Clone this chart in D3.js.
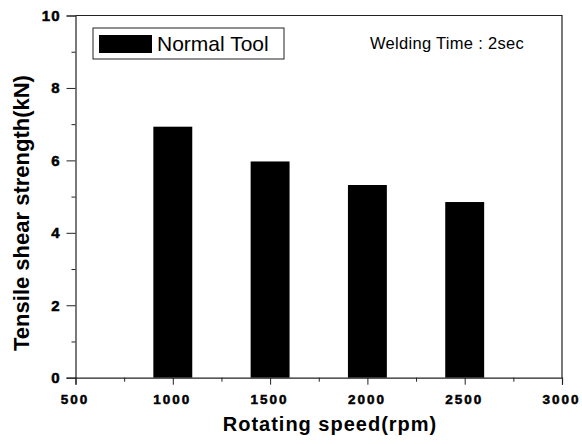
<!DOCTYPE html>
<html><head><meta charset="utf-8">
<script src="https://cdn.jsdelivr.net/npm/d3@7"></script>
<style>
html,body{margin:0;padding:0;background:#fff;}
svg{display:block;font-family:"Liberation Sans",Arial,sans-serif;}
.tk text{font-weight:bold;fill:#000;stroke:#000;stroke-width:0.5px;}
</style></head>
<body>
<svg id="c" width="582" height="444"></svg>
<script>
const speeds = [1000, 1500, 2000, 2500];
const strength = [6.93, 5.97, 5.32, 4.85];
const xTicks = [500, 1000, 1500, 2000, 2500, 3000];
const xMinor = [750, 1250, 1750, 2250, 2750];
const yTicks = [0, 2, 4, 6, 8, 10];
const yMinor = [1, 3, 5, 7, 9];
const seriesName = "Normal Tool";
const note = "Welding Time : 2sec";
const xTitle = "Rotating speed(rpm)";
const yTitle = "Tensile shear strength(kN)";

const svg = d3.select("#c");
const L = 75.5, R = 562, T = 15.5, B = 377.7;
const x = d3.scaleLinear().domain([500, 3000]).range([L, R]);
const y = d3.scaleLinear().domain([0, 10]).range([B, T]);
const barHalf = 100; // rpm

// bars
svg.append("g").selectAll("rect").data(speeds).join("rect")
  .attr("x", d => x(d - barHalf))
  .attr("width", d => x(d + barHalf) - x(d - barHalf))
  .attr("y", (d, i) => y(strength[i]))
  .attr("height", (d, i) => y(0) - y(strength[i]))
  .attr("fill", "#000");

// frame
svg.append("path")
  .attr("d", `M${L},${T}H${R}V${B}`)
  .attr("fill", "none").attr("stroke", "#222").attr("stroke-width", 1.2);

// x axis
const gx = svg.append("g").attr("class", "tk").attr("transform", `translate(0,${B})`)
  .call(d3.axisBottom(x).tickValues(xTicks).tickSize(7).tickPadding(10).tickFormat(d3.format("d")));
gx.attr("font-size", 13.5).attr("font-family", "Liberation Sans, Arial, sans-serif");
gx.selectAll("text").attr("dx", -1).style("letter-spacing", "2px");
svg.append("g").attr("transform", `translate(0,${B})`)
  .call(d3.axisBottom(x).tickValues(xMinor).tickSize(4).tickFormat(""))
  .select(".domain").remove();

// y axis
const gy = svg.append("g").attr("class", "tk").attr("transform", `translate(${L},0)`)
  .call(d3.axisLeft(y).tickValues(yTicks).tickSize(9).tickPadding(6).tickFormat(d3.format("d")));
gy.attr("font-size", 15).attr("font-family", "Liberation Sans, Arial, sans-serif");
gy.selectAll("text").style("letter-spacing", "1px");
svg.append("g").attr("transform", `translate(${L},0)`)
  .call(d3.axisLeft(y).tickValues(yMinor).tickSize(4).tickFormat(""))
  .select(".domain").remove();

svg.selectAll(".domain").attr("stroke", "#222").attr("stroke-width", 1.2);
svg.selectAll(".tick line").attr("stroke", "#222");

// titles
svg.append("text").attr("x", 330).attr("y", 431).attr("text-anchor", "middle")
  .style("font-size", "20px").style("font-weight", "bold").style("letter-spacing", "1px")
  .text(xTitle);
svg.append("text").attr("transform", "translate(29,213) rotate(-90)").attr("text-anchor", "middle")
  .style("font-size", "22px").style("font-weight", "bold")
  .text(yTitle);

// legend
const lg = svg.append("g");
lg.append("rect").attr("x", 93).attr("y", 28).attr("width", 191).attr("height", 31)
  .attr("fill", "#fff").attr("stroke", "#222").attr("stroke-width", 1);
lg.append("rect").attr("x", 99).attr("y", 35).attr("width", 53).attr("height", 18).attr("fill", "#000");
lg.append("text").attr("x", 157).attr("y", 51).style("font-size", "21px").text(seriesName);

// note
svg.append("text").attr("x", 370).attr("y", 49).style("font-size", "16.5px")
  .style("letter-spacing", "0.3px").text(note);
</script>
</body></html>
